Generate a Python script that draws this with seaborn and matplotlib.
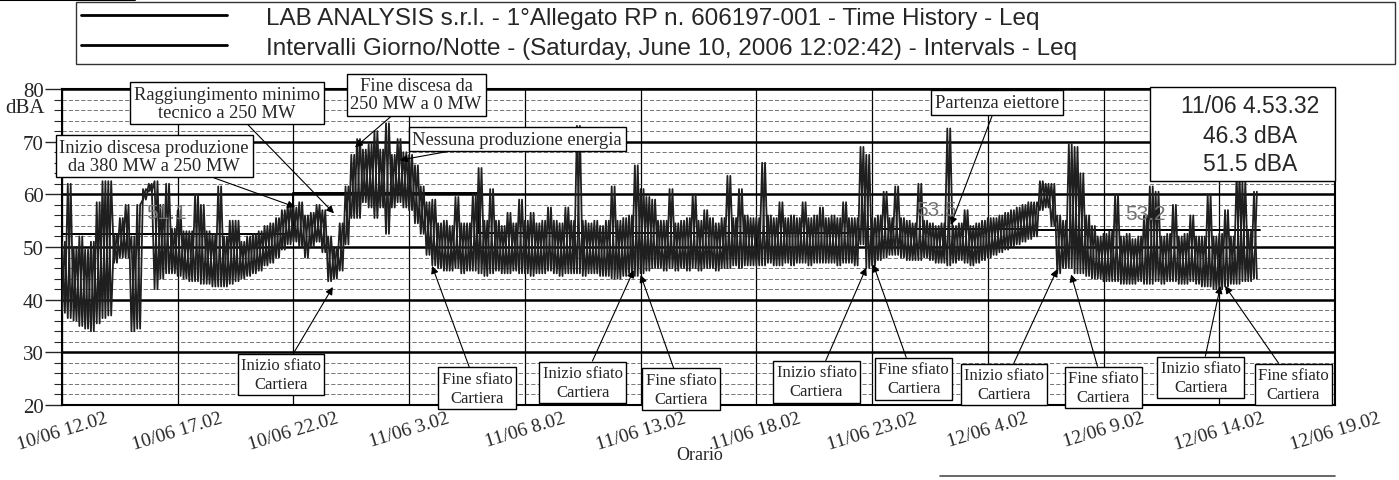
import numpy as np
import pandas as pd
import seaborn as sns
import matplotlib.pyplot as plt
from matplotlib.patches import Rectangle
from matplotlib.lines import Line2D
from matplotlib.ticker import MultipleLocator

# Time history Leq (dBA), envelope read per 15 minute bin, hours after 10/06 12:02
bin_hours = 0.25
leq_high = [
    51, 62, 50, 52, 49.5, 51, 58.5, 62.5,
    62.5, 52.5, 55.5, 58, 52, 58, 61, 62,
    62.5, 58, 62, 53.5, 57, 53, 53, 60,
    58, 53, 52.5, 61.5, 52, 55, 55, 51,
    52, 52.5, 53, 54, 54.5, 55.5, 57, 58,
    57.5, 58.5, 56, 56.5, 58, 57, 52, 50,
    54.5, 61.5, 67.5, 70.5, 68.5, 69.5, 72, 68.5,
    73.5, 67.5, 70.5, 68, 67.5, 65.5, 61.5, 58.5,
    59, 54.5, 55, 54, 59.5, 54.5, 54.5, 60,
    65, 55, 61, 55, 54, 56.5, 54.5, 59,
    55, 56.5, 54.5, 55, 57.5, 55, 54.5, 57.5,
    55, 73, 55, 54.5, 55, 54, 55, 61.5,
    55, 55.5, 56, 65.5, 61, 59.5, 59, 55,
    55, 61, 54.5, 55, 55.5, 60, 55, 57,
    55.5, 54.5, 55.5, 63.5, 55.5, 61, 56, 55.5,
    55.5, 66, 56, 55.5, 58.5, 55.5, 56, 55.5,
    58.5, 55.5, 56, 57.5, 55.5, 56, 55.5, 58.5,
    55.5, 55.5, 69, 67.5, 55.5, 56, 60.5, 55.5,
    61.5, 55.5, 55, 54.5, 62, 55, 54.5, 54,
    54.5, 72.5, 54, 54.5, 57, 54, 54.5, 55,
    55.5, 55.5, 56, 56.5, 57, 57.5, 58, 58.5,
    58.5, 62.5, 62, 62, 56, 55, 69.5, 69,
    64, 56, 54, 52, 52.5, 53, 60, 52,
    52.5, 51.5, 52, 56, 61.5, 60.5, 52, 52.5,
    58, 52, 52.5, 56, 52, 52, 60, 52,
    52.5, 57, 52, 64, 62.5, 53, 60.5,
]
leq_low = [
    37.5, 36.5, 36, 35, 34.5, 34, 35.5, 36.5,
    37, 47, 48, 48, 34, 34.5, 59, 60.5,
    42, 44, 45, 45, 44.5, 44, 43.5, 43.5,
    43, 43, 42.5, 42.5, 42.5, 43, 43.5, 44,
    44.5, 45, 45.5, 46.5, 47, 48, 49.5, 50.5,
    51, 50, 48, 50, 51, 49, 43.5, 44,
    45.5, 50.5, 55.5, 55.5, 58.5, 57.5, 55.5, 57.5,
    52.5, 57.5, 58.5, 57.5, 57, 54.5, 52.5, 48.5,
    46.5, 46, 45.5, 45.5, 46, 45, 45.5, 45.5,
    45, 44.5, 45, 45.5, 45, 45, 45.5, 45,
    45, 44.5, 45, 45, 45.5, 45, 44.5, 45,
    45, 45, 44.5, 45, 45, 44.5, 44.5, 44,
    44, 44.5, 45, 44.5, 45, 45.5, 46, 46,
    45.5, 46, 45.5, 46, 45.5, 46, 45.5, 46,
    46, 45.5, 46, 46, 46.5, 46, 46.5, 46.5,
    46.5, 46.5, 47, 46.5, 46.5, 47, 46.5, 47,
    47, 46.5, 47, 47, 47, 47, 46.5, 47,
    47, 46.5, 50.5, 46, 46.5, 47.5, 48, 48.5,
    48.5, 48, 47.5, 47.5, 47.5, 48, 47.5, 47,
    47, 46.5, 47, 47.5, 47, 46.5, 47, 47.5,
    48, 48.5, 49, 49.5, 50, 50.5, 51, 51.5,
    52, 57, 57.5, 54, 45, 46, 46, 45,
    45, 44.5, 44, 44, 43.5, 43.5, 43.5, 43,
    43, 43, 43.5, 43, 43, 43.5, 43, 43.5,
    43.5, 43, 43, 43.5, 43, 42.5, 42.5, 42,
    42, 42.5, 43, 43, 43.5, 43.5, 44,
]

# Day / night intervals Leq
interval_start = [0.0, 9.97, 17.97, 33.97, 41.97]
interval_end = 51.75
interval_leq = [52.5, 60.2, 52.6, 53.5, 53.2]
interval_text = ["51.1", "53.5", "53.2"]
interval_text_h = [4.5, 37.8, 46.8]
interval_text_db = [56.5, 57.2, 56.4]

tick_hours = [0, 5, 10, 15, 20, 25, 30, 35, 40, 45, 50, 55]
tick_labels = ["10/06 12.02", "10/06 17.02", "10/06 22.02", "11/06 3.02",
               "11/06 8.02", "11/06 13.02", "11/06 18.02", "11/06 23.02",
               "12/06 4.02", "12/06 9.02", "12/06 14.02", "12/06 19.02"]

legend_labels = [
    "LAB ANALYSIS s.r.l. - 1°Allegato RP n. 606197-001 - Time History - Leq",
    "Intervalli Giorno/Notte - (Saturday, June 10, 2006 12:02:42) - Intervals - Leq",
]

sns.set_style("white")
plt.rcParams['font.family'] = ['Liberation Serif', 'DejaVu Serif']

fig = plt.figure(figsize=(13.99, 4.81), dpi=100)
ax = fig.add_axes([62 / 1399, 0.1559, 1273 / 1399, 0.657])

# low/high of each bin traced twice with opposite phase -> dense recorder-like band
n = len(leq_high)
t0 = np.arange(n) * bin_hours
frames = []
for phase, (first, second) in enumerate([(leq_low, leq_high), (leq_high, leq_low)]):
    hours = np.empty(2 * n)
    values = np.empty(2 * n)
    hours[0::2] = t0
    hours[1::2] = t0 + bin_hours / 2
    values[0::2] = first
    values[1::2] = second
    frames.append(pd.DataFrame({'ore': hours, 'leq': values, 'fase': phase}))
history = pd.concat(frames, ignore_index=True)

sns.lineplot(data=history, x='ore', y='leq', units='fase', ax=ax, color='0.12', lw=1.3,
             estimator=None, sort=False, zorder=3)
ax.plot([], [], color='black', lw=2, label=legend_labels[0])

step_x = interval_start + [interval_end]
step_y = interval_leq + [interval_leq[-1]]
sns.lineplot(x=step_x, y=step_y, ax=ax, color='black', lw=1.4, drawstyle='steps-post',
             estimator=None, sort=False, label=legend_labels[1], zorder=2.5)

for txt, h, db in zip(interval_text, interval_text_h, interval_text_db):
    ax.text(h, db, txt, ha='center', va='center', fontsize=15, color='0.45',
            family=['Liberation Sans', 'DejaVu Sans'], zorder=4)

ax.set_xlim(0, 55)
ax.set_ylim(20, 80)
ax.yaxis.set_major_locator(MultipleLocator(10))
ax.yaxis.set_minor_locator(MultipleLocator(2))
ax.set_xticks(tick_hours)
ax.set_xticklabels(tick_labels, rotation=17, ha='center', fontsize=14)
ax.set_axisbelow(True)
ax.grid(which='major', axis='y', color='black', lw=1.8)
ax.grid(which='minor', axis='y', color='0.25', lw=0.5, ls=(0, (6, 3)))
ax.grid(which='major', axis='x', color='black', lw=0.9)
ax.tick_params(axis='y', which='major', length=12, width=1, labelsize=15, pad=1, left=True)
ax.tick_params(axis='y', which='minor', length=6, width=0.8, left=True)
ax.tick_params(axis='x', length=0, pad=3)
ax.set_xlabel("")
ax.set_ylabel("")
for sp in ax.spines.values():
    sp.set_color('black')
    sp.set_linewidth(1.5)

fig.text(5 / 1399, 1 - 109 / 481, "dBA", ha='left', va='center', fontsize=15)
fig.text(700 / 1399, 1 - 456 / 481, "Orario", ha='center', va='center', fontsize=13)

# event annotations
box = dict(boxstyle='square,pad=0.2', fc='white', ec='black', lw=1)
arrow = dict(arrowstyle='-|>', color='black', lw=0.8, mutation_scale=11, shrinkA=0, shrinkB=0)
top_notes = [
    ("Inizio discesa produzione\nda 380 MW a 250 MW", (3.98, 67.2), (10.07, 57.6)),
    ("Raggiungimento minimo\ntecnico a 250 MW", (7.13, 77.3), (11.75, 56.4)),
    ("Fine discesa da\n250 MW a 0 MW", (15.3, 78.9), (12.66, 68.9)),
    ("Nessuna produzione energia", (19.66, 70.5), (14.6, 66.5)),
    ("Partenza eiettore", (40.4, 77.4), (38.4, 54.2)),
]
for txt, xytext, xy in top_notes:
    ax.annotate(txt, xy=xy, xytext=xytext, ha='center', va='center', fontsize=13.3,
                linespacing=1.05, bbox=box, arrowprops=arrow, annotation_clip=False, zorder=6)

bottom_notes = [
    ("Inizio", (9.46, 25.8), (11.7, 42.4)),
    ("Fine", (17.93, 23.2), (15.99, 46.4)),
    ("Inizio", (22.5, 24.3), (24.7, 45.6)),
    ("Fine", (26.75, 23.0), (25.0, 44.7)),
    ("Inizio", (32.6, 24.4), (34.75, 46.1)),
    ("Fine", (36.8, 25.0), (35.05, 46.7)),
    ("Inizio", (40.7, 23.9), (43.0, 45.8)),
    ("Fine", (45.0, 23.3), (43.6, 44.8)),
    ("Inizio", (49.2, 25.2), (50.05, 42.6)),
    ("Fine", (53.2, 23.9), (50.25, 42.6)),
]
for word, xytext, xy in bottom_notes:
    ax.annotate(word + " sfiato\nCartiera", xy=xy, xytext=xytext, ha='center', va='center',
                fontsize=12, linespacing=1.25, bbox=box, arrowprops=arrow,
                annotation_clip=False, zorder=6)

# cursor read-out box
ax.add_patch(Rectangle((47.02, 62.5), 55 - 47.02, 80.3 - 62.5, fc='white', ec='black',
                       lw=1, zorder=6, clip_on=False))
for txt, db in zip(["11/06 4.53.32", "46.3 dBA", "51.5 dBA"], [76.8, 71.1, 65.8]):
    ax.text(51.34, db, txt, ha='center', va='center', fontsize=16.5,
            family=['Liberation Sans', 'DejaVu Sans'], zorder=7)

# legend box on top
handles, labels = ax.get_legend_handles_labels()
if ax.get_legend() is not None:
    ax.get_legend().remove()
leg = fig.legend(handles, labels, loc='upper left',
                 bbox_to_anchor=(76 / 1399, 1 - 3 / 481, 1319 / 1399, 0), mode='expand',
                 borderaxespad=0, borderpad=0.2, frameon=True, fancybox=False,
                 edgecolor='black', handlelength=6.0, handletextpad=1.6, labelspacing=0.32,
                 prop={'family': ['Liberation Sans', 'DejaVu Sans'], 'size': 17.5})
leg.get_frame().set_linewidth(1)
for line in leg.get_lines():
    line.set_linewidth(2)
    line.set_color('black')

# scan edge marks
fig.add_artist(Line2D([0, 135 / 1399], [1 - 1 / 481, 1 - 1 / 481], color='black', lw=1.5))
fig.add_artist(Line2D([940 / 1399, 1335 / 1399], [1 - 477 / 481, 1 - 477 / 481], color='0.3', lw=1.2))

fig.savefig("out.png", dpi=100)
